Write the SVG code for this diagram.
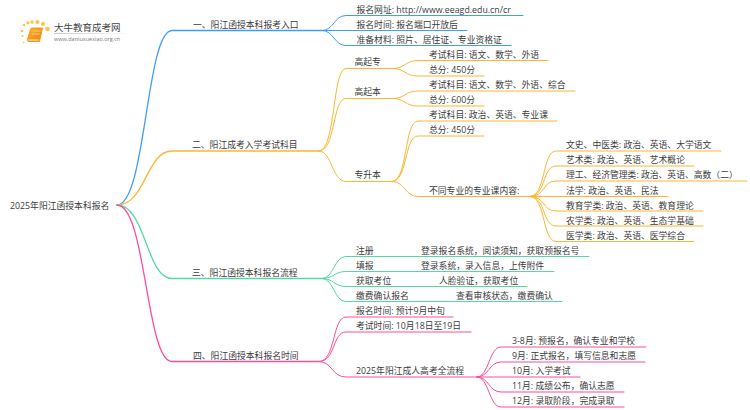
<svg xmlns="http://www.w3.org/2000/svg" width="750" height="410" viewBox="0 0 750 410">
<defs>
<linearGradient id="fade" x1="0" x2="1" y1="0" y2="0"><stop offset="0" stop-color="#bbb"/><stop offset="1" stop-color="#fff"/></linearGradient>
<linearGradient id="bookfill" x1="0" x2="1" y1="0" y2="1"><stop offset="0" stop-color="#fcb62e"/><stop offset="1" stop-color="#ee7f12"/></linearGradient>
</defs>
<style>
text{font-family:"Open Sans","Noto Sans CJK SC",sans-serif;font-size:8.8px;fill:#3c3c3c}
path{fill:none;stroke-linecap:round}
.b{stroke:#3f9dfb}.o{stroke:#fbb731}.g{stroke:#54d9a3}.p{stroke:#fd4c9e}
.m{stroke-width:1.3}.s{stroke-width:1}
.dot{fill:#fbc34a}
</style>
<g id="logo">
<circle class="dot" cx="22" cy="31" r="1.2"/><circle class="dot" cx="24" cy="25" r="1.3"/><circle class="dot" cx="28" cy="22.800" r="1.600"/><circle class="dot" cx="32" cy="22" r="1.700"/><circle class="dot" cx="37.500" cy="22" r="2"/><circle class="dot" cx="43" cy="24" r="2"/><circle class="dot" cx="47.500" cy="29" r="2.300"/><circle class="dot" cx="22.500" cy="36" r="1"/><circle class="dot" cx="23.500" cy="42.500" r="0.800"/>
<path d="M31 28.500Q31.500 28 32 28H42.500L39.500 41.500H29Q27 41.500 27.500 39.500Z" style="fill:url(#bookfill);stroke:#f19a1e;stroke-width:1;stroke-linejoin:round"/>
<path d="M28.500 40H38.500" style="stroke:#ffe9bd;stroke-width:1"/>
<path d="M33 31H40M32.300 34H39.300" style="stroke:#ffe2a0;stroke-width:0.700"/>
<rect x="54" y="33" width="80" height="0.800" fill="url(#fade)"/>
<text x="54" y="30.500" style="font-size:9.500px;fill:#444">大牛教育成考网</text>
<text x="54" y="41" style="font-size:5.500px;fill:#777">www.daniuxuexiao.org.cn</text>
</g>
<g id="connectors">
<path class="b m" d="M117 205C146 205 146 30.500 172 30.500H322"/>
<path class="b s" d="M322 30.500C334 30.500 334 15.500 346 15.500H523M322 30.500H467M322 30.500C334 30.500 334 45.500 346 45.500H511"/>
<path class="o m" d="M117 205C146 205 146 151 172 151H319"/>
<path class="o s" d="M319 151C336 151 332 68.500 346 68.500H393M319 151C336 151 332 98.500 346 98.500H393M319 151C332 151 332 181.500 346 181.500H392"/>
<path class="o s" d="M393 68.500C405 68.500 405 60.500 418 60.500H548M393 68.500C405 68.500 405 76 418 76H484"/>
<path class="o s" d="M393 98.500C405 98.500 405 91 418 91H575M393 98.500C405 98.500 405 106 418 106H484"/>
<path class="o s" d="M392 181.500C408 181.500 404 121 418 121H557M392 181.500C408 181.500 404 136 418 136H484M392 181.500C405 181.500 405 196.500 418 196.500H530"/>
<path class="o s" d="M530 196.500C546 196.500 542 151 556 151H721M530 196.500C546 196.500 542 166 556 166H694M530 196.500C546 196.500 542 181 556 181H747M530 196.500H668M530 196.500C546 196.500 542 211 556 211H703M530 196.500C546 196.500 542 226 556 226H703M530 196.500C546 196.500 542 241.500 556 241.500H694"/>
<path class="g m" d="M117 205C146 205 146 278.500 172 278.500H322"/>
<path class="g s" d="M322 278.500C334 278.500 334 256.500 346 256.500H589M322 278.500C334 278.500 334 271.500 346 271.500H554M322 278.500C334 278.500 334 286.500 346 286.500H527M322 278.500C334 278.500 334 301.500 346 301.500H562"/>
<path class="p m" d="M117 205C146 205 146 361.500 172 361.500H319"/>
<path class="p s" d="M319 361.500C336 361.500 332 317 346 317H453M319 361.500C336 361.500 332 332 346 332H471M319 361.500C332 361.500 332 377 346 377H477"/>
<path class="p s" d="M477 377C489 377 489 347 501 347H646M477 377C489 377 489 362 501 362H645M477 377H580M477 377C489 377 489 392 501 392H624M477 377C489 377 489 407 501 407H624"/>
</g>
<g id="root"><text x="10" y="208.500">2025年阳江函授本科报名</text></g>
<g id="branch1">
<text x="193" y="27.500">一、阳江函授本科报考入口</text>
<text x="356.500" y="12.500">报名网址: http://www.eeagd.edu.cn/cr</text>
<text x="356.500" y="27.500">报名时间: 报名端口开放后</text>
<text x="356.500" y="42.500">准备材料: 照片、居住证、专业资格证</text>
</g>
<g id="branch2">
<text x="192" y="148">二、阳江成考入学考试科目</text>
<text x="354.500" y="65">高起专</text>
<text x="429" y="57.500">考试科目: 语文、数学、外语</text>
<text x="429" y="73">总分: 450分</text>
<text x="354.500" y="95">高起本</text>
<text x="429" y="88">考试科目: 语文、数学、外语、综合</text>
<text x="429" y="103">总分: 600分</text>
<text x="354.500" y="178">专升本</text>
<text x="429" y="118">考试科目: 政治、英语、专业课</text>
<text x="429" y="133">总分: 450分</text>
<text x="429" y="193.500">不同专业的专业课内容:</text>
<text x="566" y="148">文史、中医类: 政治、英语、大学语文</text>
<text x="566" y="163">艺术类: 政治、英语、艺术概论</text>
<text x="566" y="178">理工、经济管理类: 政治、英语、高数（二）</text>
<text x="566" y="193.500">法学: 政治、英语、民法</text>
<text x="566" y="208.500">教育学类: 政治、英语、教育理论</text>
<text x="566" y="223.500">农学类: 政治、英语、生态学基础</text>
<text x="566" y="238.500">医学类: 政治、英语、医学综合</text>
</g>
<g id="branch3">
<text x="192" y="276">三、阳江函授本科报名流程</text>
<text x="356" y="253.500">注册</text><text x="421" y="253.500">登录报名系统，阅读须知，获取预报名号</text>
<text x="356" y="268.500">填报</text><text x="421" y="268.500">登录系统，录入信息，上传附件</text>
<text x="356" y="284">获取考位</text><text x="439" y="284">人脸验证，获取考位</text>
<text x="356" y="299">缴费确认报名</text><text x="456" y="299">查看审核状态，缴费确认</text>
</g>
<g id="branch4">
<text x="193" y="359">四、阳江函授本科报名时间</text>
<text x="356" y="314">报名时间: 预计9月中旬</text>
<text x="356" y="329">考试时间: 10月18日至19日</text>
<text x="356" y="374">2025年阳江成人高考全流程</text>
<text x="512" y="344">3-8月: 预报名，确认专业和学校</text>
<text x="512" y="359">9月: 正式报名，填写信息和志愿</text>
<text x="512" y="374">10月: 入学考试</text>
<text x="512" y="389">11月: 成绩公布，确认志愿</text>
<text x="512" y="404">12月: 录取阶段，完成录取</text>
</g>
</svg>
